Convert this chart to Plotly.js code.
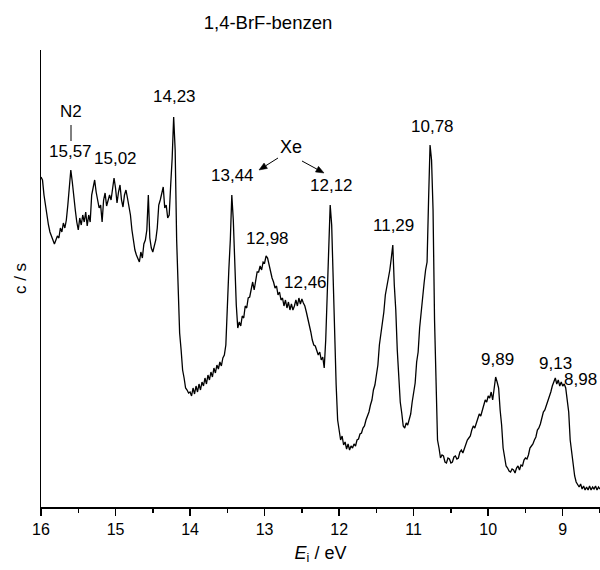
<!DOCTYPE html>
<html>
<head>
<meta charset="utf-8">
<script src="https://cdn.plot.ly/plotly-3.0.1.min.js"></script>
<style>html,body{margin:0;padding:0;background:#fff;}#chart{width:600px;height:570px;}</style>
</head>
<body>
<div id="chart"></div>
<script>
// Ionisation energy axis (eV), 0.02 eV sampling
const energy = [
16.00,15.98,15.96,15.94,15.92,15.90,15.88,15.86,15.84,15.82,
15.80,15.78,15.76,15.74,15.72,15.70,15.68,15.66,15.64,15.62,
15.60,15.58,15.56,15.54,15.52,15.50,15.48,15.46,15.44,15.42,
15.40,15.38,15.36,15.34,15.32,15.30,15.28,15.26,15.24,15.22,
15.20,15.18,15.16,15.14,15.12,15.10,15.08,15.06,15.04,15.02,
15.00,14.98,14.96,14.94,14.92,14.90,14.88,14.86,14.84,14.82,
14.80,14.78,14.76,14.74,14.72,14.70,14.68,14.66,14.64,14.62,
14.60,14.58,14.56,14.54,14.52,14.50,14.48,14.46,14.44,14.42,
14.40,14.38,14.36,14.34,14.32,14.30,14.28,14.26,14.24,14.22,
14.20,14.18,14.16,14.14,14.12,14.10,14.08,14.06,14.04,14.02,
14.00,13.98,13.96,13.94,13.92,13.90,13.88,13.86,13.84,13.82,
13.80,13.78,13.76,13.74,13.72,13.70,13.68,13.66,13.64,13.62,
13.60,13.58,13.56,13.54,13.52,13.50,13.48,13.46,13.44,13.42,
13.40,13.38,13.36,13.34,13.32,13.30,13.28,13.26,13.24,13.22,
13.20,13.18,13.16,13.14,13.12,13.10,13.08,13.06,13.04,13.02,
13.00,12.98,12.96,12.94,12.92,12.90,12.88,12.86,12.84,12.82,
12.80,12.78,12.76,12.74,12.72,12.70,12.68,12.66,12.64,12.62,
12.60,12.58,12.56,12.54,12.52,12.50,12.48,12.46,12.44,12.42,
12.40,12.38,12.36,12.34,12.32,12.30,12.28,12.26,12.24,12.22,
12.20,12.18,12.16,12.14,12.12,12.10,12.08,12.06,12.04,12.02,
12.00,11.98,11.96,11.94,11.92,11.90,11.88,11.86,11.84,11.82,
11.80,11.78,11.76,11.74,11.72,11.70,11.68,11.66,11.64,11.62,
11.60,11.58,11.56,11.54,11.52,11.50,11.48,11.46,11.44,11.42,
11.40,11.38,11.36,11.34,11.32,11.30,11.28,11.26,11.24,11.22,
11.20,11.18,11.16,11.14,11.12,11.10,11.08,11.06,11.04,11.02,
11.00,10.98,10.96,10.94,10.92,10.90,10.88,10.86,10.84,10.82,
10.80,10.78,10.76,10.74,10.72,10.70,10.68,10.66,10.64,10.62,
10.60,10.58,10.56,10.54,10.52,10.50,10.48,10.46,10.44,10.42,
10.40,10.38,10.36,10.34,10.32,10.30,10.28,10.26,10.24,10.22,
10.20,10.18,10.16,10.14,10.12,10.10,10.08,10.06,10.04,10.02,
10.00,9.98,9.96,9.94,9.92,9.90,9.88,9.86,9.84,9.82,
9.80,9.78,9.76,9.74,9.72,9.70,9.68,9.66,9.64,9.62,
9.60,9.58,9.56,9.54,9.52,9.50,9.48,9.46,9.44,9.42,
9.40,9.38,9.36,9.34,9.32,9.30,9.28,9.26,9.24,9.22,
9.20,9.18,9.16,9.14,9.12,9.10,9.08,9.06,9.04,9.02,
9.00,8.98,8.96,8.94,8.92,8.90,8.88,8.86,8.84,8.82,
8.80,8.78,8.76,8.74,8.72,8.70,8.68,8.66,8.64,8.62,
8.60,8.58,8.56,8.54,8.52,8.50
];

// Count rate (arbitrary units)
const counts = [
330,327,312,302,289,282,275,271,267,263,
267,271,269,279,275,284,279,287,302,319,
337,325,307,297,285,277,289,282,292,285,
295,281,292,285,312,319,327,315,307,299,
302,285,307,314,301,307,312,307,321,329,
319,304,315,322,307,300,312,317,309,302,
292,277,265,257,252,249,245,255,249,263,
267,277,312,269,259,255,262,267,279,302,
307,315,320,299,302,289,292,322,349,390,
357,267,222,174,157,137,129,119,117,114,
115,111,119,113,121,115,123,117,125,121,
129,123,132,127,135,130,139,134,142,138,
145,141,149,152,162,207,237,267,312,287,
232,202,179,185,181,191,189,201,199,209,
210,219,225,217,227,235,235,241,237,245,
244,251,249,241,237,229,225,219,221,212,
215,207,209,201,207,199,205,197,203,197,
201,207,201,209,203,208,204,201,195,189,
181,175,167,162,161,155,152,155,147,150,
139,167,207,262,302,282,222,154,122,87,
79,67,71,62,65,58,63,57,61,59,
63,61,67,68,73,74,79,81,87,91,
95,102,107,117,122,132,142,162,172,185,
195,212,220,232,237,249,262,222,197,157,
132,105,94,81,79,84,82,89,93,105,
115,124,145,155,179,195,215,224,237,245,
307,362,347,297,187,127,67,59,49,52,
51,45,44,49,48,44,45,50,51,48,
49,55,57,54,58,64,67,69,71,77,
81,79,83,89,93,91,97,103,107,105,
111,109,115,107,119,130,125,119,97,82,
59,51,41,39,36,35,38,37,34,39,
41,37,42,41,47,49,48,52,59,61,
63,67,70,77,79,83,89,95,97,101,
105,111,115,121,125,129,123,127,121,125,
121,123,119,107,95,67,55,37,31,25,
23,20,23,18,21,17,20,17,21,17,
20,18,21,17,20,18
];

const tickValues = [16, 15, 14, 13, 12, 11, 10, 9];
const tickLabels = ['16', '15', '14', '13', '12', '11', '10', '9'];
const peakLabels = ['15,57', '15,02', '14,23', '13,44', '12,98', '12,46', '12,12', '11,29', '10,78', '9,89', '9,13', '8,98'];
const chartTitle = '1,4-BrF-benzen';

// ---- layout helpers (pixel placement of text and arrows, not data) ----
const M = {l: 41, r: 0, t: 50, b: 63};
const PW = 600 - M.l - M.r, PH = 570 - M.t - M.b;
const px = x => (x - M.l) / PW;
const py = y => (570 - M.b - y) / PH;
const FONT = 'Liberation Sans, Arial, Helvetica, sans-serif';
const labelPx = [[70,151],[115,159],[174,96],[233,175],[267,238],[305,282],[331,185],[393,225],[432,126],[497,359],[555,363],[580,379]];

const annotations = peakLabels.map((t, i) => ({
  text: t, xref: 'paper', yref: 'paper', x: px(labelPx[i][0]), y: py(labelPx[i][1]),
  xanchor: 'center', yanchor: 'middle', showarrow: false,
  font: {family: FONT, size: 17, color: '#000'}
}));
annotations.push({text: 'N2', xref: 'paper', yref: 'paper', x: px(71), y: py(112),
  xanchor: 'center', yanchor: 'middle', showarrow: false, font: {family: FONT, size: 17, color: '#000'}});
annotations.push({text: 'Xe', xref: 'paper', yref: 'paper', x: px(291), y: py(147),
  xanchor: 'center', yanchor: 'middle', showarrow: false, font: {family: FONT, size: 18, color: '#000'}});

const shapes = [{type: 'line', xref: 'paper', yref: 'paper', x0: px(71), x1: px(71), y0: py(125), y1: py(141),
  line: {color: '#000', width: 1}}];

// arrows drawn as a line plus a filled triangular head
function arrow(tx, ty, hx, hy) {
  const dx = hx - tx, dy = hy - ty, L = Math.hypot(dx, dy);
  const ux = dx / L, uy = dy / L, nx = -uy, ny = ux;
  const hl = 8, hw = 3.2;
  const bx = hx - hl * ux, by = hy - hl * uy;
  shapes.push({type: 'line', xref: 'paper', yref: 'paper', x0: px(tx), y0: py(ty), x1: px(bx), y1: py(by),
    line: {color: '#000', width: 1}});
  const p1 = [bx + hw * nx, by + hw * ny], p2 = [bx - hw * nx, by - hw * ny];
  shapes.push({type: 'path', xref: 'paper', yref: 'paper',
    path: `M ${px(hx)} ${py(hy)} L ${px(p1[0])} ${py(p1[1])} L ${px(p2[0])} ${py(p2[1])} Z`,
    fillcolor: '#000', line: {color: '#000', width: 0.5}});
}
arrow(278, 158, 259, 170);
arrow(302, 161, 324, 173);

const trace = {x: energy, y: counts, type: 'scatter', mode: 'lines',
  line: {color: '#000', width: 1.3}, hoverinfo: 'skip'};

const layout = {
  width: 600, height: 570, margin: M,
  paper_bgcolor: '#fff', plot_bgcolor: '#fff', showlegend: false,
  font: {family: FONT, color: '#000', size: 16},
  title: {text: chartTitle, x: 268 / 600, xref: 'container', xanchor: 'center',
    y: 1 - 23 / 570, yref: 'container', yanchor: 'middle', font: {family: FONT, size: 18.5, color: '#000'}},
  xaxis: {range: [16, 8.5], tickmode: 'array', tickvals: tickValues, ticktext: tickLabels,
    ticks: 'outside', ticklen: 7, tickwidth: 1.5, tickcolor: '#000',
    minor: {dtick: 0.5, ticks: 'outside', ticklen: 4, tickwidth: 1.5, tickcolor: '#000'},
    showline: true, linecolor: '#000', linewidth: 1.5, showgrid: false, zeroline: false,
    tickfont: {family: FONT, size: 16, color: '#000'},
    title: {text: '<i>E</i><sub>i</sub> / eV', font: {family: FONT, size: 18, color: '#000'}, standoff: 9}},
  yaxis: {range: [0, PH], showline: true, linecolor: '#000', linewidth: 1.5, showgrid: false,
    zeroline: false, showticklabels: false, ticks: '',
    title: {text: 'c / s', font: {family: FONT, size: 17, color: '#000'}, standoff: 8}},
  annotations: annotations, shapes: shapes
};

Plotly.newPlot('chart', [trace], layout, {displayModeBar: false, staticPlot: true});
</script>
</body>
</html>
